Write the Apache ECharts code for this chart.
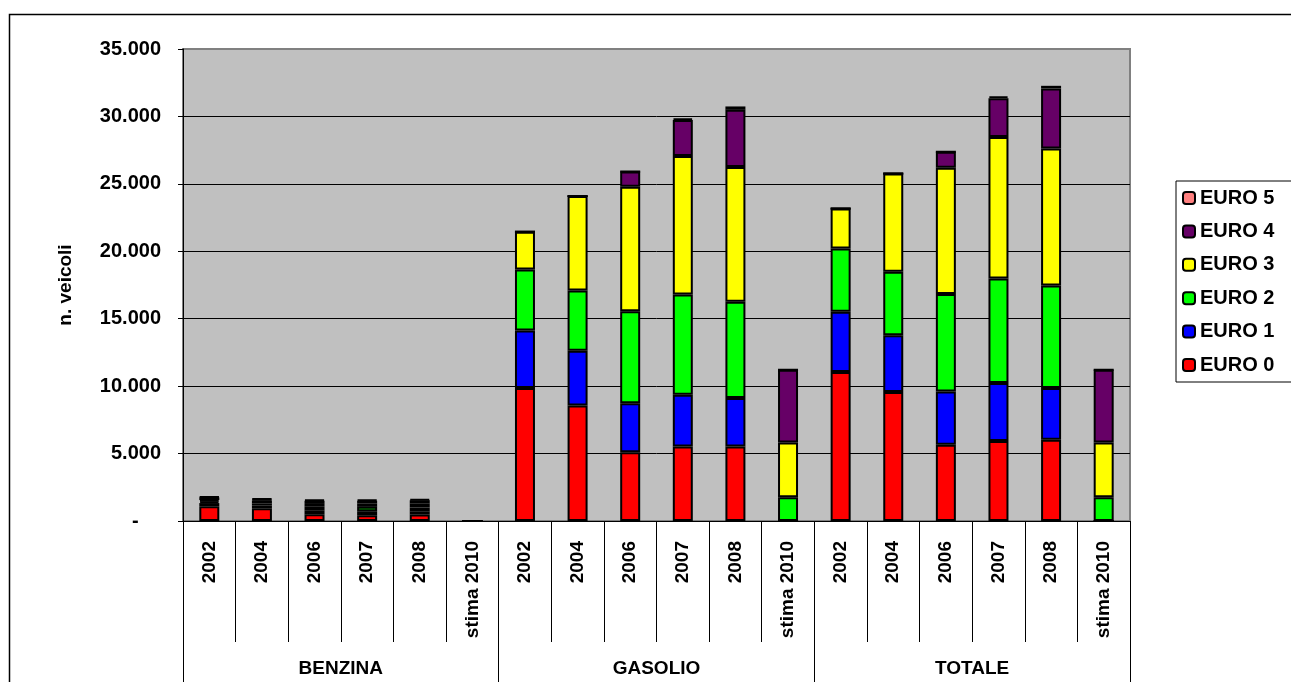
<!DOCTYPE html>
<html>
<head>
<meta charset="utf-8">
<script src="https://cdn.jsdelivr.net/npm/echarts@6/dist/echarts.min.js"></script>
<style>
  html, body { margin: 0; padding: 0; background: #fff; }
  #chart { width: 1291px; height: 682px; }
</style>
</head>
<body>
<div id="chart"></div>
<script>
// ---- data ----
const groups = ['BENZINA', 'GASOLIO', 'TOTALE'];
const years = ['2002', '2004', '2006', '2007', '2008', 'stima 2010'];
const categories = [].concat(years, years, years);
const seriesNames = ['EURO 0', 'EURO 1', 'EURO 2', 'EURO 3', 'EURO 4', 'EURO 5'];
const euro0 = [1100, 950, 500, 420, 480, 0, 9860, 8570, 5100, 5520, 5520, 0, 11050, 9560, 5650, 5940, 6020, 0];
const euro1 = [230, 200, 300, 300, 230, 0, 4260, 4060, 3640, 3840, 3600, 0, 4460, 4210, 3960, 4290, 3840, 0];
const euro2 = [120, 150, 300, 330, 300, 0, 4530, 4460, 6810, 7430, 7130, 1760, 4700, 4710, 7230, 7750, 7600, 1760];
const euro3 = [100, 230, 230, 250, 280, 0, 2800, 7010, 9240, 10280, 10000, 4060, 2970, 7280, 9360, 10500, 10160, 4060];
const euro4 = [200, 80, 170, 200, 250, 0, 0, 0, 1120, 2670, 4240, 5400, 0, 0, 1190, 2870, 4460, 5400];
const euro5 = [50, 50, 60, 60, 70, 0, 0, 0, 0, 100, 250, 0, 0, 0, 0, 130, 190, 0];
const yTicks = [0, 5000, 10000, 15000, 20000, 25000, 30000, 35000];
const yAxisName = 'n. veicoli';

// ---- style ----
const colors = ['#FF0000', '#0000FF', '#00FF00', '#FFFF00', '#660066', '#FF8080'];
const FONT = '"Liberation Sans", Arial, sans-serif';
const values = [euro0, euro1, euro2, euro3, euro4, euro5];

function fmt(v) {
  if (v === 0) return '-    ';
  return String(v).replace(/\B(?=(\d{3})+(?!\d))/g, '.');
}

const chart = echarts.init(document.getElementById('chart'), null, { renderer: 'canvas' });

const series = seriesNames.map((name, i) => ({
  name: name,
  type: 'bar',
  stack: 'total',
  xAxisIndex: 0,
  barWidth: 20,
  data: values[i],
  itemStyle: { color: colors[i], borderColor: '#000', borderWidth: 2 },
  emphasis: { disabled: true },
  animation: false
}));

const option = {
  animation: false,
  textStyle: { fontFamily: FONT },
  graphic: [{
    type: 'rect',
    left: 7, top: 12,
    shape: { width: 1320, height: 720 },
    style: { fill: 'none', stroke: '#000', lineWidth: 1.5 },
    silent: true,
    z: -10
  }],
  grid: {
    left: 183, right: 161, top: 49, bottom: 161,
    show: true, backgroundColor: '#C0C0C0', borderColor: '#808080', borderWidth: 2
  },
  legend: {
    orient: 'vertical',
    left: 1176, top: 181,
    data: seriesNames.slice().reverse(),
    itemWidth: 12, itemHeight: 12, itemGap: 13.4,
    padding: [7, 60, 7, 6],
    borderColor: '#000', borderWidth: 1,
    backgroundColor: '#fff',
    selectedMode: false,
    textStyle: { fontFamily: FONT, fontWeight: 'bold', fontSize: 20, color: '#000', lineHeight: 20 }
  },
  xAxis: [{
    type: 'category',
    data: categories,
    position: 'bottom',
    axisLine: { show: true, lineStyle: { color: '#000', width: 1 } },
    axisTick: { show: true, interval: 0, length: 121, lineStyle: { color: '#000', width: 1 } },
    axisLabel: { interval: 0, rotate: 90, margin: 20, fontFamily: FONT, fontWeight: 'bold', fontSize: 19, color: '#000' },
    splitLine: { show: false }
  }, {
    type: 'category',
    data: groups,
    position: 'bottom',
    axisLine: { show: false },
    axisTick: { show: true, interval: 0, length: 170, lineStyle: { color: '#000', width: 1 } },
    axisLabel: { interval: 0, margin: 138, fontFamily: FONT, fontWeight: 'bold', fontSize: 19, color: '#000' },
    splitLine: { show: false }
  }],
  yAxis: {
    type: 'value',
    min: yTicks[0], max: yTicks[yTicks.length - 1], interval: 5000,
    name: yAxisName,
    nameLocation: 'middle',
    nameRotate: 90,
    nameGap: 108,
    nameTextStyle: { fontFamily: FONT, fontWeight: 'bold', fontSize: 19, color: '#000' },
    axisLine: { show: true, lineStyle: { color: '#000', width: 1 } },
    axisTick: { show: true, inside: false, length: 5, lineStyle: { color: '#000' } },
    axisLabel: { margin: 22, formatter: fmt, fontFamily: FONT, fontWeight: 'bold', fontSize: 20, color: '#000' },
    splitLine: { show: true, lineStyle: { color: ['#000', '#000', '#000', '#000', '#000', '#000', '#000', '#808080'], width: 1 } }
  },
  series: series
};

chart.setOption(option);
</script>
</body>
</html>
